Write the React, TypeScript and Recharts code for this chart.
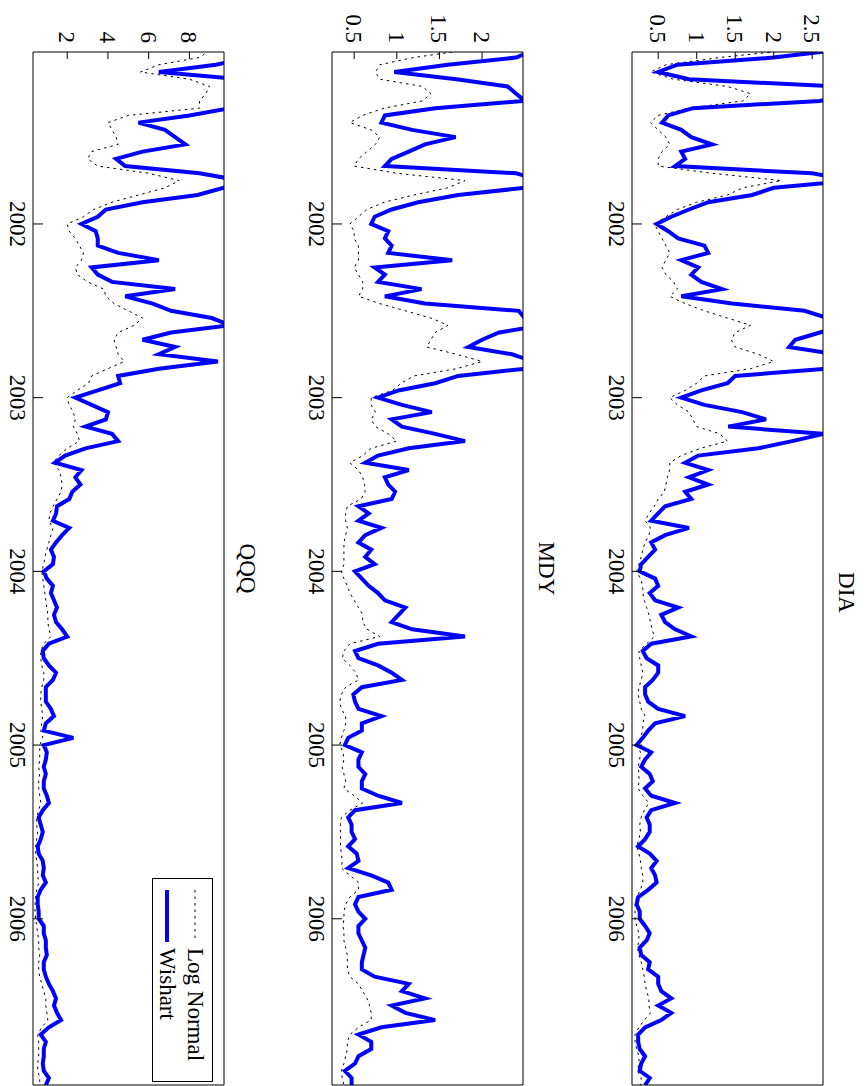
import { LineChart, Line, XAxis, YAxis, Legend } from 'recharts';

// figure is drawn landscape and then turned a quarter turn clockwise
const FIG_W = 1086;
const FIG_H = 867;
const FONT = '"Liberation Serif", "DejaVu Serif", serif';
const FONT_SIZE = 23;

const PLOT_LEFT = 52;
const PLOT_W = 1033;
const CHART_H = 260;

// half-month samples from the start of 2001
const firstYear = 2001;
const samplesPerYear = 24;
const timeDomain: [number, number] = [2001.01, 2006.957];
const yearTicks = [2002, 2003, 2004, 2005, 2006];

const diaTicks = [0.5, 1, 1.5, 2, 2.5];
const mdyTicks = [0.5, 1, 1.5, 2];
const qqqTicks = [2, 4, 6, 8];

const diaWishart = [
  2.8, 2.0, 0.75, 0.5, 0.9, 2.8, 3.0, 2.6, 0.95, 0.63, 0.55, 0.8, 0.93, 1.2, 0.8, 0.85,
  0.72, 2.5, 3.0, 2.0, 1.72, 1.15, 0.9, 0.67, 0.48, 0.63, 0.76, 1.1, 1.15, 0.8, 1.02, 0.93,
  1.06, 1.33, 0.8, 1.46, 2.4, 2.7, 2.9, 2.6, 2.28, 2.2, 2.8, 3.0, 2.7, 1.5, 1.4, 1.06,
  0.8, 1.1, 1.59, 1.9, 1.41, 2.65, 2.24, 1.8, 1.02, 0.85, 1.15, 0.9, 1.15, 0.85, 0.93, 0.59,
  0.5, 0.41, 0.9, 0.59, 0.41, 0.46, 0.37, 0.28, 0.26, 0.46, 0.5, 0.39, 0.46, 0.76, 0.54, 0.59,
  0.72, 0.93, 0.41, 0.3, 0.35, 0.5, 0.5, 0.43, 0.33, 0.33, 0.37, 0.5, 0.85, 0.46, 0.37, 0.3,
  0.22, 0.41, 0.33, 0.28, 0.39, 0.43, 0.33, 0.41, 0.72, 0.41, 0.35, 0.39, 0.39, 0.33, 0.24, 0.39,
  0.48, 0.41, 0.46, 0.48, 0.37, 0.24, 0.22, 0.26, 0.26, 0.33, 0.39, 0.35, 0.26, 0.28, 0.39, 0.37,
  0.5, 0.5, 0.54, 0.67, 0.5, 0.67, 0.54, 0.33, 0.24, 0.24, 0.26, 0.33, 0.28, 0.26, 0.39, 0.33,
];
const diaLogNormal = [
  2.2, 1.3, 0.6, 0.4, 0.7, 1.4, 1.7, 1.6, 0.9, 0.5, 0.4, 0.5, 0.6, 0.65, 0.55, 0.5,
  0.5, 1.2, 2.1, 1.6, 1.4, 1.0, 0.75, 0.6, 0.45, 0.5, 0.55, 0.6, 0.65, 0.6, 0.55, 0.6,
  0.7, 0.75, 0.65, 0.85, 1.1, 1.4, 1.7, 1.5, 1.45, 1.5, 1.8, 2.0, 1.7, 1.1, 1.0, 0.85,
  0.65, 0.75, 0.9, 0.95, 1.0, 1.3, 1.4, 1.05, 0.8, 0.65, 0.65, 0.62, 0.6, 0.58, 0.5, 0.45,
  0.38, 0.33, 0.4, 0.38, 0.33, 0.3, 0.28, 0.25, 0.22, 0.27, 0.3, 0.3, 0.32, 0.35, 0.38, 0.4,
  0.42, 0.45, 0.35, 0.25, 0.26, 0.28, 0.3, 0.28, 0.25, 0.24, 0.26, 0.28, 0.33, 0.3, 0.3, 0.27,
  0.23, 0.27, 0.26, 0.24, 0.25, 0.25, 0.24, 0.3, 0.38, 0.32, 0.28, 0.26, 0.27, 0.25, 0.22, 0.25,
  0.27, 0.28, 0.3, 0.3, 0.27, 0.22, 0.2, 0.2, 0.2, 0.22, 0.25, 0.25, 0.23, 0.25, 0.28, 0.3,
  0.32, 0.33, 0.35, 0.38, 0.38, 0.4, 0.32, 0.25, 0.2, 0.2, 0.22, 0.25, 0.25, 0.23, 0.28, 0.27,
];

const mdyWishart = [
  2.6, 2.4, 1.6, 0.97, 1.7, 2.3, 2.4, 2.5, 1.45, 0.86, 0.82, 1.18, 1.69, 1.33, 1.14, 0.94,
  0.86, 2.4, 2.7, 2.5, 1.72, 1.25, 0.94, 0.74, 0.7, 0.9, 0.86, 0.94, 0.9, 1.65, 0.74, 0.86,
  0.78, 1.29, 0.86, 1.33, 2.43, 2.5, 2.7, 2.2, 2.0, 1.84, 2.35, 2.6, 2.5, 1.72, 1.45, 1.02,
  0.78, 1.06, 1.41, 0.94, 1.06, 1.45, 1.8, 1.14, 0.78, 0.63, 1.14, 0.86, 0.9, 0.98, 0.94, 0.55,
  0.67, 0.55, 0.82, 0.63, 0.55, 0.7, 0.63, 0.74, 0.51, 0.59, 0.67, 0.78, 0.86, 1.1, 1.02, 0.94,
  1.18, 1.8, 0.78, 0.51, 0.55, 0.78, 0.94, 1.06, 0.59, 0.49, 0.51, 0.55, 0.82, 0.59, 0.59, 0.43,
  0.39, 0.59, 0.55, 0.55, 0.63, 0.59, 0.59, 0.78, 1.06, 0.51, 0.43, 0.47, 0.47, 0.51, 0.43, 0.53,
  0.55, 0.43, 0.7, 0.9, 0.94, 0.55, 0.51, 0.55, 0.63, 0.55, 0.55, 0.59, 0.63, 0.61, 0.59, 0.59,
  0.74, 1.14, 1.06, 1.33, 0.94, 1.1, 1.45, 0.82, 0.55, 0.7, 0.7, 0.55, 0.51, 0.39, 0.47, 0.47,
];
const mdyLogNormal = [
  1.8, 1.2, 0.8, 0.75, 0.8, 1.3, 1.4, 1.3, 0.85, 0.6, 0.45, 0.7, 0.8, 0.75, 0.65, 0.55,
  0.5, 1.0, 1.8, 1.6, 1.2, 0.85, 0.65, 0.55, 0.45, 0.5, 0.5, 0.55, 0.55, 0.55, 0.5, 0.55,
  0.6, 0.6, 0.55, 0.8, 1.1, 1.4, 1.6, 1.45, 1.4, 1.35, 1.7, 2.0, 1.7, 1.2, 1.05, 0.95,
  0.7, 0.7, 0.75, 0.7, 0.75, 0.9, 1.0, 0.7, 0.6, 0.45, 0.55, 0.6, 0.62, 0.63, 0.58, 0.42,
  0.4, 0.4, 0.42, 0.4, 0.38, 0.38, 0.38, 0.38, 0.35, 0.38, 0.42, 0.45, 0.5, 0.55, 0.6, 0.6,
  0.65, 0.8, 0.45, 0.38, 0.36, 0.45, 0.52, 0.55, 0.4, 0.35, 0.33, 0.35, 0.4, 0.4, 0.38, 0.35,
  0.33, 0.37, 0.38, 0.36, 0.38, 0.4, 0.38, 0.5, 0.6, 0.45, 0.35, 0.34, 0.34, 0.34, 0.34, 0.35,
  0.36, 0.35, 0.45, 0.55, 0.55, 0.45, 0.4, 0.38, 0.38, 0.37, 0.38, 0.38, 0.4, 0.42, 0.42, 0.42,
  0.45, 0.55, 0.6, 0.65, 0.68, 0.7, 0.7, 0.55, 0.45, 0.42, 0.42, 0.4, 0.38, 0.35, 0.36, 0.38,
];

const qqqWishart = [
  10.5, 11, 9.3, 6.5, 10.5, 11, 11, 10.5, 10, 8, 5.5, 6.8, 7.3, 7.8, 5.7, 4.4,
  4.85, 8.5, 10.5, 9.7, 8.4, 5.7, 3.9, 3.5, 2.7, 3.4, 3.5, 3.5, 4.5, 6.5, 3.2, 3.5,
  4.2, 7.3, 4.85, 6.2, 7.1, 9.1, 10, 7.1, 5.7, 7.3, 6.5, 9.4, 6.5, 4.5, 4.6, 3.5,
  2.4, 3.2, 4.0, 3.9, 2.9, 4.2, 4.5, 2.9, 1.9, 1.4, 2.7, 2.4, 2.65, 2.25, 2.1, 1.5,
  1.45, 1.3, 2.1, 1.75, 1.45, 1.2, 1.35, 1.3, 0.85, 1.0, 1.3, 1.2, 1.35, 1.5, 1.35, 1.45,
  1.75, 2.0, 1.1, 0.8, 0.85, 1.1, 1.45, 1.3, 0.95, 0.95, 0.95, 1.2, 1.35, 0.95, 0.85, 2.3,
  0.85, 1.0, 0.95, 0.85, 0.95, 0.85, 0.85, 1.0, 1.1, 0.8, 0.6, 0.7, 0.8, 0.7, 0.55, 0.6,
  0.8, 0.85, 0.8, 0.95, 0.7, 0.55, 0.55, 0.6, 0.6, 0.85, 0.85, 0.95, 0.95, 1.0, 0.85, 0.85,
  0.95, 1.1, 1.3, 1.45, 1.35, 1.5, 1.7, 1.1, 0.7, 0.95, 0.85, 0.85, 0.8, 0.85, 1.1, 0.95,
];
const qqqLogNormal = [
  9, 8.5, 6.5, 5.6, 8.0, 9.0, 8.8, 8.5, 8.5, 5.0, 4.0, 4.2, 4.4, 4.5, 3.2, 3.0,
  3.5, 6.0, 7.5, 6.8, 5.5, 4.2, 3.3, 2.8, 2.0, 2.1, 2.4, 2.6, 2.8, 2.7, 2.4, 2.5,
  3.0, 3.8, 3.9, 4.3, 5.0, 5.7, 5.3, 4.5, 4.3, 4.4, 4.5, 4.8, 4.0, 3.2, 3.05, 2.5,
  2.0, 2.1, 2.3, 2.4, 2.3, 2.5, 2.6, 2.0, 1.6, 1.3, 1.6, 1.7, 1.75, 1.7, 1.5, 1.3,
  1.15, 1.1, 1.3, 1.2, 1.1, 1.0, 0.9, 0.85, 0.75, 0.8, 0.85, 0.9, 0.95, 1.0, 1.05, 1.05,
  1.1, 1.2, 0.85, 0.7, 0.7, 0.75, 0.85, 0.85, 0.75, 0.7, 0.7, 0.75, 0.8, 0.75, 0.7, 0.8,
  0.65, 0.65, 0.65, 0.6, 0.65, 0.6, 0.6, 0.65, 0.7, 0.6, 0.5, 0.5, 0.55, 0.5, 0.45, 0.45,
  0.5, 0.55, 0.55, 0.6, 0.5, 0.45, 0.42, 0.42, 0.45, 0.5, 0.55, 0.6, 0.6, 0.65, 0.6, 0.6,
  0.65, 0.75, 0.85, 0.95, 0.95, 1.0, 1.05, 0.75, 0.55, 0.6, 0.6, 0.6, 0.55, 0.55, 0.65, 0.65,
];

type Row = { t: number; logNormal: number; wishart: number };

const buildRows = (logNormal: number[], wishart: number[]): Row[] =>
  wishart.map((w, i) => ({
    t: firstYear + i / samplesPerYear,
    logNormal: logNormal[i],
    wishart: w,
  }));

const axisTick = { fill: '#000', fontSize: FONT_SIZE, fontFamily: FONT };
const DOTTED = '2.5 4';

const LegendBox = ({ payload }: any) => (
  <div
    style={{
      position: 'relative',
      width: 204,
      height: 61,
      boxSizing: 'border-box',
      border: '1px solid #000',
      background: '#fff',
      fontFamily: FONT,
      fontSize: FONT_SIZE,
      color: '#000',
    }}
  >
    {(payload || []).map((entry: any, i: number) => (
      <div
        key={entry.value}
        style={{
          position: 'absolute',
          left: 11,
          top: 5 + i * 28,
          height: 24,
          display: 'flex',
          alignItems: 'center',
          whiteSpace: 'nowrap',
        }}
      >
        <svg width={52} height={10} style={{ marginRight: 6 }}>
          <line
            x1={0}
            y1={5}
            x2={52}
            y2={5}
            stroke={entry.color}
            strokeWidth={entry.value === 'Wishart' ? 4 : 1}
            strokeDasharray={entry.value === 'Wishart' ? undefined : DOTTED}
          />
        </svg>
        <span>{entry.value}</span>
      </div>
    ))}
  </div>
);

type PanelProps = {
  title: string;
  titleShift?: number;
  top: number;
  rows: Row[];
  domain: [number, number];
  ticks: number[];
  showLegend?: boolean;
};

const Panel = ({ title, titleShift = 0, top, rows, domain, ticks, showLegend }: PanelProps) => (
  <div style={{ position: 'absolute', left: 0, top }}>
    <div
      style={{
        position: 'absolute',
        left: PLOT_LEFT + titleShift,
        width: PLOT_W,
        top: -4,
        lineHeight: '22px',
        textAlign: 'center',
        fontFamily: FONT,
        fontSize: FONT_SIZE,
        zIndex: 1,
      }}
    >
      {title}
    </div>
    <LineChart
      width={FIG_W}
      height={CHART_H}
      data={rows}
      margin={{ top: 30, right: 1, bottom: 0, left: 0 }}
    >
      <XAxis
        xAxisId='bottom'
        dataKey='t'
        type='number'
        domain={timeDomain}
        ticks={yearTicks}
        interval={0}
        allowDataOverflow
        height={39}
        tickSize={-10}
        tickMargin={17}
        stroke='#000'
        tick={axisTick}
      />
      <XAxis
        xAxisId='top'
        dataKey='t'
        type='number'
        orientation='top'
        mirror
        domain={timeDomain}
        ticks={yearTicks}
        interval={0}
        allowDataOverflow
        tickSize={10}
        tick={false}
        stroke='#000'
      />
      <YAxis
        yAxisId='left'
        type='number'
        domain={domain}
        ticks={ticks}
        interval={0}
        allowDataOverflow
        width={PLOT_LEFT}
        tickSize={-7}
        tickMargin={16}
        stroke='#000'
        tick={axisTick}
      />
      <YAxis
        yAxisId='right'
        type='number'
        orientation='right'
        mirror
        domain={domain}
        ticks={ticks}
        interval={0}
        allowDataOverflow
        tickSize={7}
        tick={false}
        stroke='#000'
      />
      <Line
        xAxisId='bottom'
        yAxisId='left'
        type='linear'
        dataKey='logNormal'
        name='Log Normal'
        stroke='#000'
        strokeWidth={1}
        strokeDasharray={DOTTED}
        dot={false}
        activeDot={false}
        isAnimationActive={false}
      />
      <Line
        xAxisId='bottom'
        yAxisId='left'
        type='linear'
        dataKey='wishart'
        name='Wishart'
        stroke='#0000ff'
        strokeWidth={4}
        dot={false}
        activeDot={false}
        isAnimationActive={false}
      />
      {showLegend && (
        <Legend
          layout='vertical'
          align='center'
          verticalAlign='middle'
          content={LegendBox}
          wrapperStyle={{ left: 878, top: 41, width: 204, height: 61 }}
        />
      )}
    </LineChart>
  </div>
);

export default function App() {
  return (
    <div
      style={{
        position: 'absolute',
        left: 0,
        top: 0,
        width: FIG_H,
        height: FIG_W,
        overflow: 'hidden',
        background: '#fff',
      }}
    >
      <div
        style={{
          position: 'absolute',
          left: 0,
          top: 0,
          width: FIG_W,
          height: FIG_H,
          transformOrigin: '0 0',
          transform: `translateX(${FIG_H}px) rotate(90deg)`,
        }}
      >
        <Panel title='DIA' titleShift={24} top={14} rows={buildRows(diaLogNormal, diaWishart)} domain={[0.16, 2.64]} ticks={diaTicks} />
        <Panel title='MDY' top={314} rows={buildRows(mdyLogNormal, mdyWishart)} domain={[0.24, 2.48]} ticks={mdyTicks} />
        <Panel title='QQQ' top={613} rows={buildRows(qqqLogNormal, qqqWishart)} domain={[0.32, 9.7]} ticks={qqqTicks} showLegend />
      </div>
    </div>
  );
}
